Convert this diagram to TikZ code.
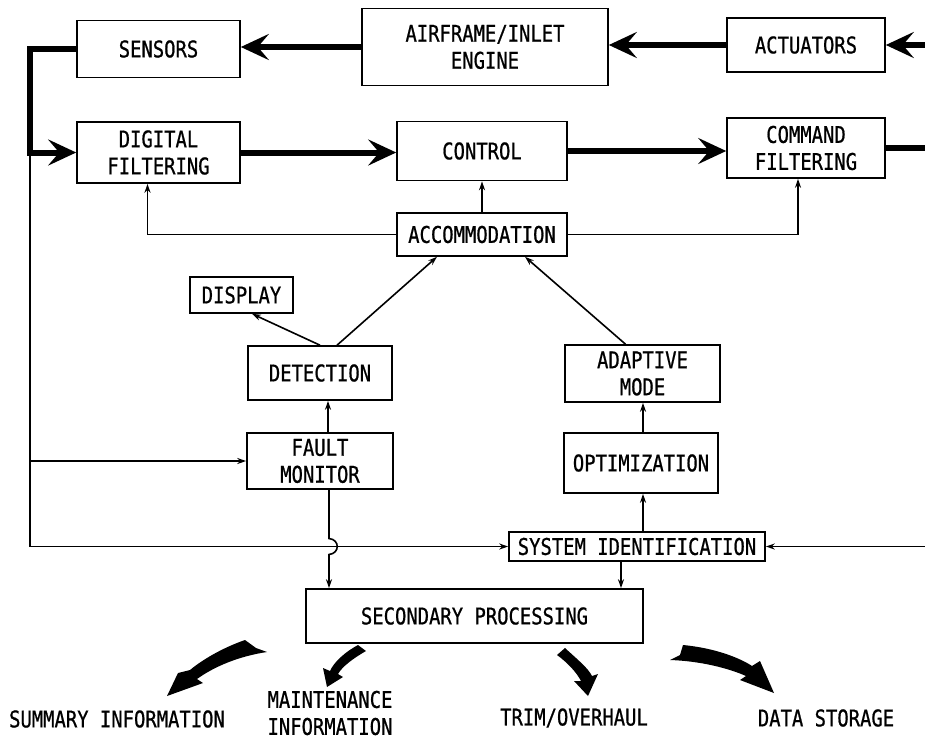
\documentclass[tikz,border=0pt]{standalone}
\usepackage{fontspec}
\setmainfont{DejaVu Sans Mono}[FakeStretch=0.82,FakeBold=0.8]
\usetikzlibrary{arrows.meta}

\begin{document}
\begin{tikzpicture}[x=1pt, y=-1pt,
  blk/.style={draw, line width=1.6pt, inner sep=2pt, align=center,
    font=\fontsize{23}{27}\selectfont},
  lbl/.style={align=center, font=\fontsize{23}{27}\selectfont},
  bus/.style={line width=6pt, -{Stealth[length=28pt,width=26pt,inset=11pt]}},
  sig/.style={line width=1.6pt, -{Stealth[length=9pt,width=6pt]}},
  swoosh/.style={fill=black, line join=round}
]
\useasboundingbox (0,0) rectangle (925,739);

% main loop
\node[blk, minimum width=163pt, minimum height=57pt] (sens) at (158.5,49) {SENSORS};
\node[blk, minimum width=246pt, minimum height=77pt] (afe) at (485,47) {AIRFRAME/INLET\\ENGINE};
\node[blk, minimum width=158pt, minimum height=54pt] (act) at (806,45) {ACTUATORS};
\node[blk, minimum width=163pt, minimum height=61pt] (dfil) at (158.5,152.5) {DIGITAL\\FILTERING};
\node[blk, minimum width=170pt, minimum height=59pt] (ctrl) at (482,151) {CONTROL};
\node[blk, minimum width=158pt, minimum height=60pt] (cfil) at (806,148) {COMMAND\\FILTERING};
\node[blk, minimum width=170pt, minimum height=43pt] (acc) at (482,234.5) {ACCOMMODATION};

% monitoring / adaptation
\node[blk, minimum width=103pt, minimum height=36pt] (disp) at (241.5,295) {DISPLAY};
\node[blk, minimum width=144pt, minimum height=54pt] (det) at (320,373) {DETECTION};
\node[blk, minimum width=146pt, minimum height=56pt] (fm) at (320,461) {FAULT\\MONITOR};
\node[blk, minimum width=155pt, minimum height=57pt] (adm) at (642.5,373.5) {ADAPTIVE\\MODE};
\node[blk, minimum width=154pt, minimum height=60pt] (opt) at (641,463) {OPTIMIZATION};
\node[blk, minimum width=256pt, minimum height=29pt, inner sep=0pt] (sysid) at (637,546.5) {SYSTEM IDENTIFICATION};
\node[blk, minimum width=337pt, minimum height=54pt] (sp) at (474.5,616) {SECONDARY PROCESSING};

% outputs
\node[lbl] (sum) at (117,719) {SUMMARY INFORMATION};
\node[lbl] (mnt) at (330,713) {MAINTENANCE\\INFORMATION};
\node[lbl] (trim) at (574,718) {TRIM/OVERHAUL};
\node[lbl] (dst) at (826,718) {DATA STORAGE};

\coordinate (inR) at (925,45);
\coordinate (outR) at (925,148);
\coordinate (lft) at (30,152.5);
\coordinate (bl) at (30,546.5);
\coordinate (inS) at (925,546.5);
\coordinate (jmp) at ([xshift=9pt]fm.south |- bl);

% heavy paths
\draw[bus] (inR) -- (act.east);
\draw[bus] (act.west) -- (act.west -| afe.east);
\draw[bus] (afe.west) -- (afe.west -| sens.east);
\draw[bus] (sens.west) -| (lft) -- (dfil.west);
\draw[bus] (dfil.east) -- (dfil.east -| ctrl.west);
\draw[bus] (ctrl.east) -- (ctrl.east -| cfil.west);
\draw[line width=6pt] (cfil.east) -- (outR);

% light paths
\draw[sig] (acc.north) -- (ctrl.south);
\draw[sig] (acc.west) -| ([xshift=-11pt]dfil.south);
\draw[sig] (acc.east) -| ([xshift=-8pt]cfil.south);
\draw[sig] (det.north) -- ([xshift=10.5pt]disp.south);
\draw[sig] ([xshift=17pt]det.north) -- ([xshift=-45pt]acc.south);
\draw[sig] ([xshift=-17pt]adm.north) -- ([xshift=43pt]acc.south);
\draw[sig] ([xshift=8pt]fm.north) -- ([xshift=8pt]det.south);
\draw[sig] ([xshift=2pt]opt.north) -- ([xshift=2pt]opt.north |- adm.south);
\draw[sig] ([xshift=2pt]opt.south |- sysid.north) -- ([xshift=2pt]opt.south);
\draw[line width=1.6pt] (lft) -- (bl);
\draw[sig] (bl) -- (sysid.west);
\draw[sig] (fm.west -| lft) -- (fm.west);
\draw[sig] ([xshift=9pt]fm.south) -- ([shift={(0,-8)}]jmp)
  .. controls ([shift={(11,-7)}]jmp) and ([shift={(11,7)}]jmp) .. ([shift={(0,8)}]jmp)
  -- (jmp |- sp.north);
\draw[sig] ([xshift=-16pt]sysid.south) -- ([xshift=-16pt]sysid.south |- sp.north);
\draw[sig] (inS) -- (sysid.east);

% output arrows
\fill[swoosh] (245,640) .. controls (222,648) and (202,660) .. (190,670)
  -- (178,673) -- (167,696) -- (203,683) -- (197,679)
  .. controls (215,666) and (240,656) .. (267,652) -- (256,648) -- cycle;
\fill[swoosh] (358,645) -- (366,651) .. controls (352,659) and (342,667) .. (338,674)
  -- (343,677) -- (327,687) -- (323,668) -- (330,671)
  .. controls (334,662) and (345,652) .. cycle;
\fill[swoosh] (557,655) -- (565,648) .. controls (578,660) and (588,668) .. (592,676)
  -- (598,674) -- (588,696) -- (574,681) -- (581,681)
  .. controls (577,673) and (568,663) .. cycle;
\fill[swoosh] (683,645) .. controls (715,648) and (740,658) .. (752,666)
  -- (760,661) -- (774,693) -- (740,680) -- (746,676)
  .. controls (728,668) and (700,661) .. (670,660) -- (680,655) -- cycle;
\end{tikzpicture}
\end{document}
